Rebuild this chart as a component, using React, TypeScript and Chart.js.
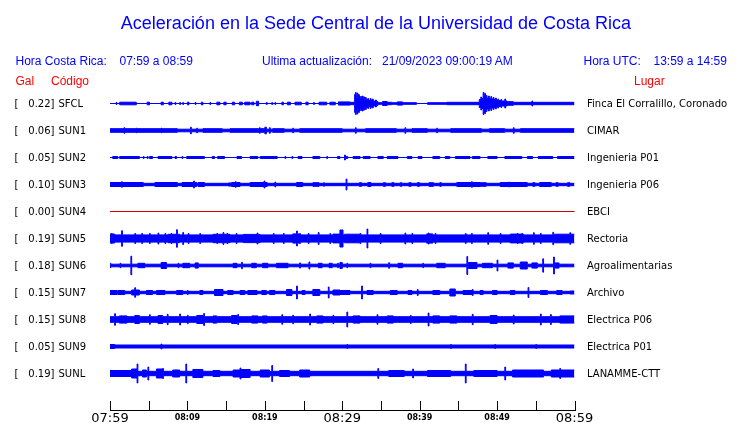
import React, { useEffect, useRef } from 'react';
import { Chart, registerables } from 'chart.js';

Chart.register(...registerables);

type Seg = [number, number, number]; // [start minute, end minute, half amplitude]

// ---------- data ----------
const stationCodes = ['SFCL', 'SUN1', 'SUN2', 'SUN3', 'SUN4', 'SUN5', 'SUN6', 'SUN7', 'SUN8', 'SUN9', 'SUNL'];
const galPeaks = [0.22, 0.06, 0.05, 0.10, 0.00, 0.19, 0.18, 0.15, 0.15, 0.05, 0.19];
const placeNames = [
  'Finca El Corralillo, Coronado', 'CIMAR', 'Ingenieria P01', 'Ingenieria P06', 'EBCI', 'Rectoria',
  'Agroalimentarias', 'Archivo', 'Electrica P06', 'Electrica P01', 'LANAMME-CTT',
];

const tickMinutes = [0, 5, 10, 15, 20, 25, 30, 35, 40, 45, 50, 55, 60];
const tickLabels = ['07:59', '', '08:09', '', '08:19', '', '08:29', '', '08:39', '', '08:49', '', '08:59'];

// background amplitude of each trace
const traceBase = [0, 1.3, 0, 1.2, 0, 3.6, 1.3, 1.2, 2.8, 1.5, 2.2];

const sfclSegs: Seg[] = [
  [0.8, 0.9, 1], [1.25, 3.4, 1.3], [4.8, 5.1, 1.3], [6.6, 6.9, 1.3], [7.6, 8.0, 1.3], [8.4, 8.5, 1], [9.0, 9.1, 1],
  [9.4, 9.5, 1], [10.0, 10.2, 1.3], [11.0, 11.1, 1], [11.8, 12.0, 1.3], [12.9, 13.0, 1], [13.8, 14.2, 1.3],
  [14.7, 15.0, 1.3], [15.8, 16.1, 1.3], [16.7, 17.1, 1.3], [17.4, 18.1, 1.3], [18.3, 18.6, 1.3], [18.9, 19.2, 2.2],
  [20.2, 20.3, 1], [20.9, 21.0, 1], [21.3, 21.4, 1], [22.2, 22.4, 1.3], [22.9, 23.3, 1.3], [23.9, 24.7, 1.3],
  [25.3, 25.6, 1.3], [26.3, 26.4, 1], [27.0, 28.0, 1.3], [28.4, 29.1, 1.3], [29.5, 31.0, 1.6], [31.0, 31.6, 1.2],
  [31.6, 31.7, 9], [31.7, 31.8, 11], [31.8, 31.9, 7], [31.9, 32.0, 10.5], [32.0, 32.1, 6], [32.1, 32.2, 9],
  [32.2, 32.3, 7.5], [32.3, 32.4, 5], [32.4, 32.5, 7], [32.5, 32.6, 4.5], [32.6, 32.7, 7.5], [32.7, 32.8, 5],
  [32.8, 32.9, 6.5], [32.9, 33.0, 4], [33.0, 33.1, 6], [33.1, 33.3, 4], [33.3, 33.4, 5], [33.4, 33.6, 3],
  [33.6, 33.7, 5], [33.7, 33.9, 3.5], [33.9, 34.0, 4.5], [34.0, 34.3, 2.5], [34.3, 34.4, 3.5], [34.4, 34.6, 2],
  [34.6, 35.2, 0.8], [35.2, 35.8, 2], [35.8, 36.4, 1.2], [36.4, 37.1, 0.8], [37.1, 37.8, 1.6], [37.8, 39.6, 0.8],
  [41.0, 43.5, 0.8], [43.5, 47.7, 1.2],
  [47.7, 47.9, 4], [47.9, 48.0, 6.5], [48.0, 48.2, 5], [48.2, 48.3, 11], [48.3, 48.4, 8], [48.4, 48.5, 10],
  [48.5, 48.6, 6], [48.6, 48.7, 8], [48.7, 48.9, 5.5], [48.9, 49.0, 7.5], [49.0, 49.2, 5], [49.2, 49.3, 7],
  [49.3, 49.5, 4.5], [49.5, 49.6, 6], [49.6, 49.8, 4], [49.8, 49.9, 5.5], [49.9, 50.1, 3.5], [50.1, 50.2, 4.5],
  [50.2, 50.5, 3], [50.5, 50.6, 4], [50.6, 51.0, 2.5], [51.0, 51.1, 4.5], [51.1, 51.3, 2.5], [51.3, 52.1, 1.8],
  [52.1, 60, 1.2], [54.5, 54.6, 2.5],
];

const sun1Segs: Seg[] = [
  [0, 8.7, 1.8], [1.8, 1.9, 2.8], [3.4, 3.5, 2.3], [6.6, 6.7, 2.3], [10.4, 10.5, 3.3], [11.2, 11.3, 2.3],
  [12.0, 14.5, 1.8], [15.5, 20.0, 1.8], [19.3, 19.4, 2.8], [20.0, 20.2, 3.3], [20.6, 20.7, 2.8], [21, 22.5, 1.8],
  [23.6, 23.7, 2.3], [24.5, 30, 1.8], [31.7, 31.8, 2.8], [33, 37, 1.8], [38.1, 38.2, 2.8], [39, 41, 1.8],
  [42.2, 42.3, 2.3], [44, 48, 1.8], [49, 51, 1.8], [52.1, 52.2, 2.8], [53, 60, 1.8],
];

const sun2Segs: Seg[] = [
  [0.35, 1.0, 1], [1.25, 3.8, 1], [4.3, 4.4, 1], [4.8, 4.9, 1], [5.1, 5.5, 1], [6.2, 8.0, 1], [8.4, 8.6, 1],
  [9.3, 9.4, 1], [9.9, 12.2, 1], [13.2, 13.5, 1], [13.9, 14.8, 1], [16.4, 17.0, 1], [18.1, 19.1, 1], [19.4, 21.6, 1],
  [22.6, 22.7, 1], [23.5, 23.6, 1], [24.3, 24.8, 1], [26.2, 27.1, 1], [28.0, 28.1, 1], [29.4, 29.7, 1],
  [30.3, 30.4, 2.5], [30.5, 30.7, 1], [31.4, 32.3, 1], [32.7, 33.6, 1], [34.6, 35.3, 1], [35.8, 37.2, 1],
  [38.4, 39.0, 1], [39.8, 40.3, 1], [41.7, 42.6, 1], [43.3, 43.9, 1], [44.6, 46.5, 1], [46.8, 47.8, 1],
  [48.8, 50.0, 1], [51.0, 53.2, 1], [53.9, 54.6, 1], [55.3, 57.2, 1], [57.8, 60, 1],
];

const sun3Segs: Seg[] = [
  [0, 4.3, 2], [1.5, 1.6, 2.8], [5.8, 8.7, 2], [9.3, 11.2, 2], [10.8, 10.9, 3.5], [11.4, 12.2, 2], [15.3, 15.6, 1.6],
  [15.7, 16.8, 2], [16.2, 16.3, 2.8], [18.1, 20.3, 2], [19.9, 20.0, 3.5], [21.3, 21.4, 2.5], [24.1, 24.9, 2],
  [26.2, 27.0, 1.8], [27.6, 27.7, 1.8], [30.5, 30.6, 5.5], [32.2, 32.5, 1.8], [33.3, 33.7, 2], [35.3, 35.6, 1.8],
  [36.4, 36.7, 1.8], [37.5, 37.7, 1.8], [38.6, 38.9, 1.8], [39.7, 40.0, 1.8], [41.2, 41.8, 1.8], [42.6, 42.8, 1.8],
  [44.8, 47.8, 2], [46.7, 46.8, 2.8], [47.8, 48.6, 1.8], [50.4, 53.9, 2], [51.5, 51.6, 2.5], [54.6, 54.9, 1.8],
  [55.5, 57.0, 2], [57.6, 57.9, 1.8], [59.1, 59.4, 1.8],
];

const sun4Segs: Seg[] = [];

const sun5Segs: Seg[] = [
  [0, 0.6, 4.5], [0.18, 0.28, 5], [1.5, 1.6, 7.8], [3.2, 3.3, 5], [4.1, 4.2, 5], [5.1, 5.2, 5], [6.2, 6.3, 5.5],
  [7.1, 7.2, 5], [7.5, 9.0, 4.2], [7.9, 8.0, 5], [8.6, 8.7, 8.8], [9.4, 9.5, 6], [10.1, 10.2, 5], [11.6, 11.7, 5],
  [13.3, 15.5, 4.2], [13.8, 13.9, 5], [14.6, 14.7, 6], [15.1, 15.2, 5], [16.3, 16.4, 5], [17.2, 19.4, 4.1],
  [19.0, 19.1, 5.5], [21.1, 21.2, 5], [22.4, 22.5, 5], [23.6, 24.5, 4.6], [24.1, 24.2, 7.5], [24.5, 24.6, 5],
  [25.6, 25.7, 5], [26.9, 27.0, 6], [28.4, 28.5, 5], [28.8, 29.7, 4.4], [29.7, 30.1, 8.5], [30.3, 32.3, 4.3],
  [32.3, 32.4, 5], [33.2, 33.3, 9.5], [34.9, 35.0, 5], [38.1, 38.2, 5.5], [39.0, 39.1, 5], [40.9, 41.7, 4.6],
  [41.1, 41.2, 5.5], [42.0, 42.1, 5], [45.9, 46.0, 5], [46.7, 46.8, 5], [48.8, 48.9, 5.8], [50.4, 50.5, 5],
  [51.7, 53.4, 4.4], [52.6, 52.7, 5], [53.2, 53.3, 5], [54.7, 54.8, 5.8], [55.6, 55.7, 5], [57.2, 57.3, 6.2],
  [57.4, 60, 4.3], [59.4, 59.5, 5.8],
];

const sun6Segs: Seg[] = [
  [0, 0.1, 2.2], [1.3, 1.4, 2.2], [2.7, 2.8, 9.3], [3.6, 4.5, 2.2], [6.6, 7.3, 3], [8.8, 8.9, 2.2], [9.4, 10.3, 2.2],
  [11.0, 11.4, 2.6], [15.9, 16.4, 2.2], [17.0, 17.1, 3.2], [18.3, 18.9, 2.2], [19.7, 20.4, 2.2], [21.5, 23.0, 2.2],
  [24.5, 24.6, 2.6], [25.7, 25.8, 3.6], [26.9, 27.4, 2.2], [28.3, 28.7, 2.2], [29.4, 29.5, 2.2], [29.7, 30.0, 3],
  [30.6, 30.7, 2.2], [33.6, 33.7, 2.2], [36.0, 36.1, 2.8], [37.2, 37.8, 2.2], [40.4, 40.5, 2.2], [42.2, 43.3, 2.2],
  [46.1, 46.2, 9], [46.3, 47.4, 3], [48.1, 49.4, 2.2], [50.0, 50.1, 5.5], [51.4, 52.1, 2.6], [53.0, 53.9, 3.5],
  [54.5, 55.2, 2.6], [55.9, 56.0, 6.7], [57.3, 57.4, 8.5], [57.5, 58.0, 2.6],
];

const sun7Segs: Seg[] = [
  [0, 0.9, 2], [1.0, 1.9, 2], [2.8, 3.8, 2.5], [3.2, 3.3, 4.8], [4.7, 5.5, 2], [6.0, 7.1, 2], [8.6, 9.4, 2],
  [10.0, 10.1, 2], [11.6, 12.0, 2], [13.5, 14.6, 3], [15.2, 15.9, 2], [16.8, 17.4, 2], [17.8, 19.0, 2],
  [19.6, 20.2, 2], [20.6, 21.3, 2], [22.8, 23.5, 3], [24.1, 24.2, 6.5], [24.8, 25.2, 2], [26.2, 27.1, 3],
  [28.2, 28.3, 5.5], [28.8, 29.7, 2.5], [29.7, 31.0, 2], [32.5, 32.6, 6.5], [33.2, 34.0, 2], [36.2, 37.1, 2],
  [38.5, 39.0, 2], [39.7, 39.8, 3], [41.7, 42.6, 2], [43.9, 44.6, 3.5], [45.6, 46.9, 2], [46.8, 46.9, 3],
  [47.8, 48.2, 2], [49.4, 50.0, 2], [51.7, 52.3, 2], [54.0, 54.1, 5], [55.6, 56.5, 2], [57.7, 58.4, 2], [59.4, 60, 1.5],
];

const sun8Segs: Seg[] = [
  [0.6, 0.7, 5.8], [1.2, 2.2, 3.6], [3.2, 3.8, 4], [5.1, 5.2, 4.8], [6.2, 6.8, 4], [7.4, 7.5, 5.2], [9.0, 9.1, 5.5],
  [10.0, 10.1, 4.2], [11.2, 12.2, 4], [12.1, 12.2, 6], [13.3, 13.8, 3.6], [15.7, 16.4, 4], [16.5, 16.6, 5],
  [18.3, 19.1, 3.6], [19.7, 20.3, 3.6], [22.2, 22.3, 4.8], [23.6, 23.7, 4.2], [25.8, 25.9, 5.5], [26.7, 27.5, 3.6],
  [28.8, 28.9, 4.2], [30.6, 30.7, 7.5], [31.4, 32.3, 3.6], [34.5, 34.6, 4.8], [35.8, 36.6, 3.6], [38.8, 38.9, 4],
  [41.1, 41.2, 6.5], [41.7, 42.6, 3.6], [43.9, 44.8, 3.6], [46.8, 46.9, 5.2], [49.1, 50.0, 4], [52.1, 52.2, 4.5],
  [55.6, 55.7, 5.5], [56.9, 57.0, 5], [58.1, 60, 3.6],
];

const sun9Segs: Seg[] = [
  [0, 0.6, 2], [6.6, 6.7, 2.5], [30.6, 30.7, 2], [44, 44.1, 2], [49.7, 49.8, 2], [55, 55.1, 2],
];

const sunlSegs: Seg[] = [
  [0, 2.9, 3], [2.8, 3.6, 4.5], [3.5, 3.6, 9.5], [4.2, 4.7, 3.5], [4.9, 5.0, 6.5], [6.0, 6.8, 4.5], [6.8, 6.9, 5],
  [8.1, 9.0, 3.5], [9.8, 9.9, 9.5], [10.7, 12.0, 4], [13.3, 14.2, 3], [15.9, 16.8, 3.5], [16.8, 16.9, 5.5],
  [16.9, 18.1, 4], [19.4, 20.6, 3.5], [20.9, 21.0, 8], [21.9, 23.2, 3], [24.5, 25.8, 3.5], [34.6, 34.7, 5],
  [36, 38, 3], [39.1, 39.2, 4.5], [41, 44, 3], [45.9, 46.0, 9.5], [47, 50, 3], [51.0, 51.1, 6.5], [52, 56, 3.5],
  [57, 60, 3.5], [58.1, 58.2, 5],
];

const traceSegments: Seg[][] = [
  sfclSegs, sun1Segs, sun2Segs, sun3Segs, sun4Segs, sun5Segs, sun6Segs, sun7Segs, sun8Segs, sun9Segs, sunlSegs,
];

// ---------- styling / layout constants ----------
const TRACE_SPACING = 27;
const BLUE = '#0000ff';
const RED_TRACE = '#d00000';
const TRACE_COLORS = stationCodes.map((c) => (c === 'SUN4' ? RED_TRACE : BLUE));

function buildSteps(base: number, segs: Seg[]) {
  const set = new Set<number>([0, 60]);
  segs.forEach(([a, b]) => {
    set.add(a);
    set.add(b);
  });
  const xs = Array.from(set).sort((p, q) => p - q);
  const out: { t: number; a: number }[] = [];
  for (let k = 0; k < xs.length - 1; k++) {
    const mid = (xs[k] + xs[k + 1]) / 2;
    let amp = base;
    segs.forEach(([a, b, v]) => {
      if (mid >= a && mid < b) amp = Math.max(amp, v);
    });
    out.push({ t: xs[k], a: amp });
  }
  out.push({ t: 60, a: out[out.length - 1].a });
  return out;
}

const labelsPlugin = {
  id: 'seisLabels',
  afterDraw(chart: any) {
    const { ctx } = chart;
    const xs = chart.scales.x;
    const ys = chart.scales.y;
    ctx.save();
    ctx.fillStyle = '#000';
    ctx.font = '10px "DejaVu Sans"';
    ctx.textBaseline = 'alphabetic';
    stationCodes.forEach((code: string, i: number) => {
      const py = ys.getPixelForValue(i * TRACE_SPACING) + 3.5;
      ctx.textAlign = 'left';
      ctx.fillText('[', 14.5, py);
      ctx.textAlign = 'right';
      ctx.fillText(galPeaks[i].toFixed(2) + ']', 54.5, py);
      ctx.textAlign = 'left';
      ctx.fillText(code, 58.5, py);
      ctx.fillText(placeNames[i], 587, py);
    });
    // time axis
    const base = Math.round(chart.chartArea.bottom) + 0.5;
    ctx.strokeStyle = '#000';
    ctx.lineWidth = 1;
    ctx.beginPath();
    ctx.moveTo(Math.round(xs.getPixelForValue(tickMinutes[0])), base);
    ctx.lineTo(Math.round(xs.getPixelForValue(tickMinutes[tickMinutes.length - 1])) + 1, base);
    tickMinutes.forEach((m) => {
      const px = Math.round(xs.getPixelForValue(m)) + 0.5;
      ctx.moveTo(px, base);
      ctx.lineTo(px, base - 9.5);
    });
    ctx.stroke();
    ctx.textAlign = 'center';
    tickMinutes.forEach((m, k) => {
      const lab = tickLabels[k];
      if (!lab) return;
      const px = xs.getPixelForValue(m);
      if (k % 6 === 0) {
        ctx.font = '13px "DejaVu Sans"';
        ctx.fillText(lab, px, base + 11.5);
      } else {
        ctx.font = 'bold 8px "DejaVu Sans"';
        ctx.fillText(lab, px, base + 9);
      }
    });
    ctx.restore();
  },
};

const headerFont = '"Liberation Sans", Arial, sans-serif';

function Txt(props: { x: number; y: number; size: number; color: string; children: string; lh: number; center?: boolean }) {
  const { x, y, size, color, children, lh, center } = props;
  return (
    <div
      style={{
        position: 'absolute',
        left: center ? x - 300 : x,
        width: center ? 600 : undefined,
        textAlign: center ? 'center' : 'left',
        top: y,
        fontFamily: headerFont,
        fontSize: size,
        lineHeight: lh + 'px',
        color,
        whiteSpace: 'pre',
      }}
    >
      {children}
    </div>
  );
}

export default function App() {
  const ref = useRef<HTMLCanvasElement>(null);

  useEffect(() => {
    if (!ref.current) return;
    const datasets: any[] = [];
    stationCodes.forEach((_code, i) => {
      const steps = buildSteps(traceBase[i], traceSegments[i]);
      const c = i * TRACE_SPACING;
      const color = TRACE_COLORS[i];
      const common = {
        borderColor: color,
        backgroundColor: color,
        borderWidth: 1,
        pointRadius: 0,
        stepped: true,
      };
      datasets.push({ ...common, data: steps.map((s) => ({ x: s.t, y: c - s.a })), fill: false });
      datasets.push({ ...common, data: steps.map((s) => ({ x: s.t, y: c + s.a })), fill: '-1' });
    });

    const chart = new Chart(ref.current, {
      type: 'line',
      data: { datasets },
      options: {
        responsive: false,
        animation: false,
        devicePixelRatio: 1,
        events: [],
        layout: { padding: { left: 110, right: 165.5, top: 90, bottom: 13.5 } },
        plugins: { legend: { display: false }, tooltip: { enabled: false } },
        scales: {
          x: { type: 'linear', min: 0, max: 60, display: false },
          y: { type: 'linear', min: -13.5, max: 306, reverse: true, display: false },
        },
      } as any,
      plugins: [labelsPlugin],
    });
    return () => chart.destroy();
  }, []);

  return (
    <div style={{ position: 'absolute', left: 0, top: 0, width: 740, height: 423, background: '#fff' }}>
      <canvas ref={ref} width={740} height={423} style={{ position: 'absolute', left: 0, top: 0, width: 740, height: 423 }} />
      <Txt x={376} y={12.6} size={18} lh={21} color={BLUE} center>
        Aceleración en la Sede Central de la Universidad de Costa Rica
      </Txt>
      <Txt x={15.5} y={53.8} size={12} lh={14} color={BLUE}>Hora Costa Rica:</Txt>
      <Txt x={119.5} y={53.8} size={12} lh={14} color={BLUE}>07:59 a 08:59</Txt>
      <Txt x={262} y={53.8} size={12} lh={14} color={BLUE}>Ultima actualización:</Txt>
      <Txt x={382} y={53.8} size={12} lh={14} color={BLUE}>21/09/2023 09:00:19 AM</Txt>
      <Txt x={583.5} y={53.8} size={12} lh={14} color={BLUE}>Hora UTC:</Txt>
      <Txt x={653.5} y={53.8} size={12} lh={14} color={BLUE}>13:59 a 14:59</Txt>
      <Txt x={15.5} y={73.8} size={12} lh={14} color="#ff0000">Gal</Txt>
      <Txt x={51} y={73.8} size={12} lh={14} color="#ff0000">Código</Txt>
      <Txt x={634} y={73.8} size={12} lh={14} color="#ff0000">Lugar</Txt>
    </div>
  );
}
